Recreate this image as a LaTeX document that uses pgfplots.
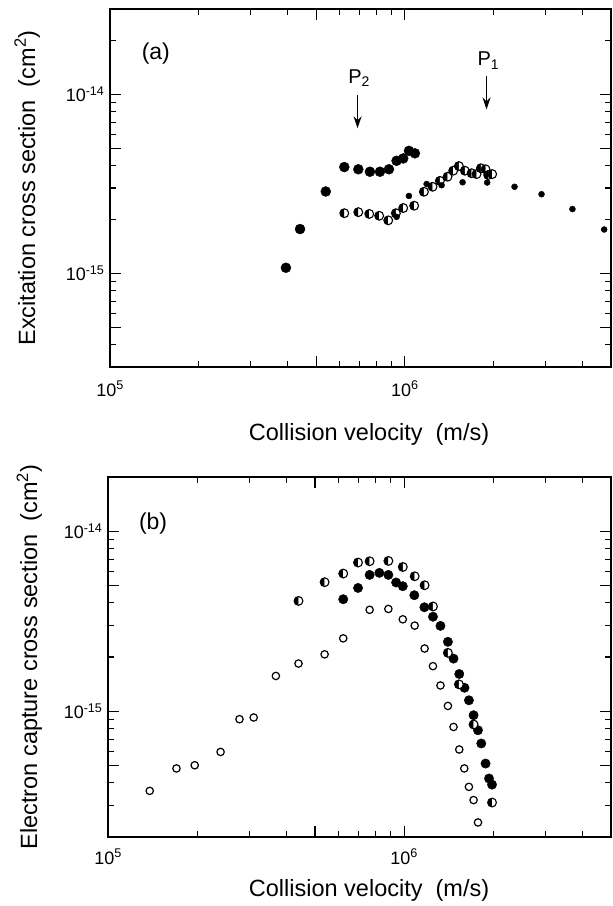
\documentclass[border=0pt]{standalone}
\usepackage{pgfplots}
\pgfplotsset{compat=1.18}
\usepackage{fontspec}
\setmainfont{Liberation Sans}
\usetikzlibrary{plotmarks,arrows.meta}
\newcommand{\lbl}{\fontsize{23.5}{28}\selectfont}
\newcommand{\tkl}{\fontsize{18}{21}\selectfont}
\begin{document}
\begin{tikzpicture}
\useasboundingbox (-110pt,-539pt) rectangle (503pt,367pt);
% ---------- panel (a)
\begin{axis}[
  xmode=log, ymode=log, scale only axis,
  xmin=1e5, xmax=5e6,
  xtick={1e5,5e5,1e6}, xticklabels={10\textsuperscript{5},,10\textsuperscript{6}},
  minor xtick={2e5,3e5,4e5,6e5,7e5,8e5,9e5,2e6,3e6,4e6},
  tick align=inside, major tick length=11pt, minor tick length=6pt,
  axis line style={line width=1.2pt},
  tick style={line width=1.1pt, black},
  ticklabel style={font=\tkl},
  xticklabel style={anchor=base, yshift=-29pt},
  yticklabel style={xshift=-2pt},
  label style={font=\lbl},
  at={(0pt,0pt)}, anchor=south west,
  width=501pt, height=358pt,
  ymin=3e-16, ymax=3e-14,
  ytick={5e-16,1e-15,5e-15,1e-14},
  yticklabels={,10\textsuperscript{-15},,10\textsuperscript{-14}},
  minor ytick={4e-16,6e-16,7e-16,8e-16,9e-16,2e-15,3e-15,4e-15,6e-15,7e-15,8e-15,9e-15,2e-14},
  xlabel={Collision velocity\ \ (m/s)},
  xlabel style={at={(axis description cs:0.517,0)}, anchor=center, yshift=-67pt},
  ylabel={Excitation cross section\ \ (cm\textsuperscript{2})},
  ylabel style={at={(axis description cs:-0.1497,0.5)}, anchor=base},
]
\addplot[only marks, black, mark=*, mark size=5pt] coordinates {
(3.95e5,1.076e-15) (4.41e5,1.77e-15) (5.39e5,2.87e-15) (6.23e5,3.93e-15)
(6.95e5,3.82e-15) (7.61e5,3.70e-15) (8.23e5,3.70e-15) (8.83e5,3.82e-15)
(9.37e5,4.26e-15) (9.87e5,4.39e-15) (1.032e6,4.84e-15) (1.081e6,4.69e-15)
};
\addplot[only marks, black, mark=halfcircle*, mark size=4.4pt, mark options={rotate=90, fill=black, draw=black, line width=1.1pt}] coordinates {
(6.23e5,2.17e-15) (6.95e5,2.20e-15) (7.57e5,2.15e-15) (8.18e5,2.10e-15)
(8.78e5,1.98e-15) (9.32e5,2.17e-15) (9.87e5,2.32e-15) (1.075e6,2.39e-15)
(1.16e6,2.86e-15) (1.241e6,3.05e-15) (1.314e6,3.29e-15) (1.395e6,3.47e-15)
(1.458e6,3.75e-15) (1.524e6,3.98e-15) (1.597e6,3.75e-15) (1.683e6,3.63e-15)
(1.75e6,3.59e-15) (1.81e6,3.87e-15) (1.877e6,3.82e-15) (1.916e6,3.55e-15)
(1.977e6,3.59e-15)
};
\addplot[only marks, black, mark=*, mark size=3pt] coordinates {
(9.37e5,2.07e-15) (1.032e6,2.71e-15) (1.185e6,3.16e-15) (1.332e6,3.11e-15)
(1.569e6,3.23e-15) (1.901e6,3.22e-15) (2.354e6,3.05e-15) (2.906e6,2.77e-15)
(3.70e6,2.29e-15) (4.74e6,1.76e-15)
};
\node[font=\fontsize{23}{27}\selectfont] at (axis cs:1.43e5,1.69e-14) {(a)};
\node[font=\fontsize{20}{24}\selectfont] at (axis cs:7.0e5,1.227e-14) {P\textsubscript{2}};
\node[font=\fontsize{20}{24}\selectfont] at (axis cs:1.92e6,1.545e-14) {P\textsubscript{1}};
\draw[line width=1.1pt, -{Stealth[length=12pt,width=8pt]}] (axis cs:6.91e5,9.87e-15) -- (axis cs:6.91e5,6.47e-15);
\draw[line width=1.1pt, -{Stealth[length=12pt,width=8pt]}] (axis cs:1.892e6,1.275e-14) -- (axis cs:1.892e6,8.25e-15);
\end{axis}
% ---------- panel (b)
\begin{axis}[
  xmode=log, ymode=log, scale only axis,
  xmin=1e5, xmax=5e6,
  xtick={1e5,5e5,1e6}, xticklabels={10\textsuperscript{5},,10\textsuperscript{6}},
  minor xtick={2e5,3e5,4e5,6e5,7e5,8e5,9e5,2e6,3e6,4e6},
  tick align=inside, major tick length=11pt, minor tick length=6pt,
  axis line style={line width=1.2pt},
  tick style={line width=1.1pt, black},
  ticklabel style={font=\tkl},
  xticklabel style={anchor=base, yshift=-27pt},
  yticklabel style={xshift=-2pt},
  label style={font=\lbl},
  at={(-2pt,-470pt)}, anchor=south west,
  width=503pt, height=360pt,
  ymin=2e-16, ymax=2e-14,
  ytick={5e-16,1e-15,5e-15,1e-14},
  yticklabels={,10\textsuperscript{-15},,10\textsuperscript{-14}},
  minor ytick={3e-16,4e-16,6e-16,7e-16,8e-16,9e-16,2e-15,3e-15,4e-15,6e-15,7e-15,8e-15,9e-15},
  xlabel={Collision velocity\ \ (m/s)},
  xlabel style={at={(axis description cs:0.519,0)}, anchor=center, yshift=-53pt},
  ylabel={Electron capture cross section\ \ (cm\textsuperscript{2})},
  ylabel style={at={(axis description cs:-0.141,0.5)}, anchor=base},
]
\addplot[only marks, black, mark=o, mark size=3.7pt, line width=1.2pt] coordinates {
(1.383e5,3.61e-16) (1.703e5,4.81e-16) (1.963e5,5.01e-16) (2.40e5,5.94e-16)
(2.78e5,9.03e-16) (3.105e5,9.23e-16) (3.69e5,1.57e-15) (4.40e5,1.84e-15)
(5.39e5,2.07e-15) (6.23e5,2.54e-15) (7.65e5,3.66e-15) (8.85e5,3.70e-15)
(9.90e5,3.24e-15) (1.086e6,2.99e-15) (1.173e6,2.23e-15) (1.252e6,1.78e-15)
(1.327e6,1.39e-15) (1.406e6,1.07e-15) (1.469e6,8.18e-16) (1.536e6,6.13e-16)
(1.597e6,4.81e-16) (1.656e6,3.80e-16) (1.717e6,3.21e-16) (1.777e6,2.41e-16)
};
\addplot[only marks, black, mark=*, mark size=4.7pt] coordinates {
(6.23e5,4.19e-15) (6.99e5,4.84e-15) (7.65e5,5.72e-15) (8.25e5,5.87e-15)
(8.85e5,5.72e-15) (9.40e5,5.19e-15) (9.90e5,4.95e-15) (1.083e6,4.41e-15)
(1.171e6,3.78e-15) (1.252e6,3.35e-15) (1.327e6,2.98e-15) (1.406e6,2.43e-15)
(1.469e6,1.96e-15) (1.536e6,1.61e-15) (1.600e6,1.35e-15) (1.656e6,1.15e-15)
(1.717e6,9.50e-16) (1.777e6,7.84e-16) (1.823e6,6.62e-16) (1.885e6,5.12e-16)
(1.936e6,4.23e-16) (1.982e6,3.91e-16)
};
\addplot[only marks, black, mark=halfcircle*, mark size=4.4pt, mark options={rotate=90, fill=black, draw=black, line width=1.1pt}] coordinates {
(4.40e5,4.10e-15) (5.39e5,5.21e-15) (6.23e5,5.82e-15) (6.99e5,6.70e-15)
(7.65e5,6.81e-15) (8.85e5,6.84e-15) (9.90e5,6.33e-15) (1.086e6,5.62e-15)
(1.173e6,5.01e-15) (1.252e6,3.82e-15) (1.406e6,2.11e-15) (1.532e6,1.41e-15)
(1.717e6,8.44e-16) (1.982e6,3.11e-16)
};
\node[font=\fontsize{23}{27}\selectfont] at (axis cs:1.42e5,1.107e-14) {(b)};
\end{axis}
\end{tikzpicture}
\end{document}
